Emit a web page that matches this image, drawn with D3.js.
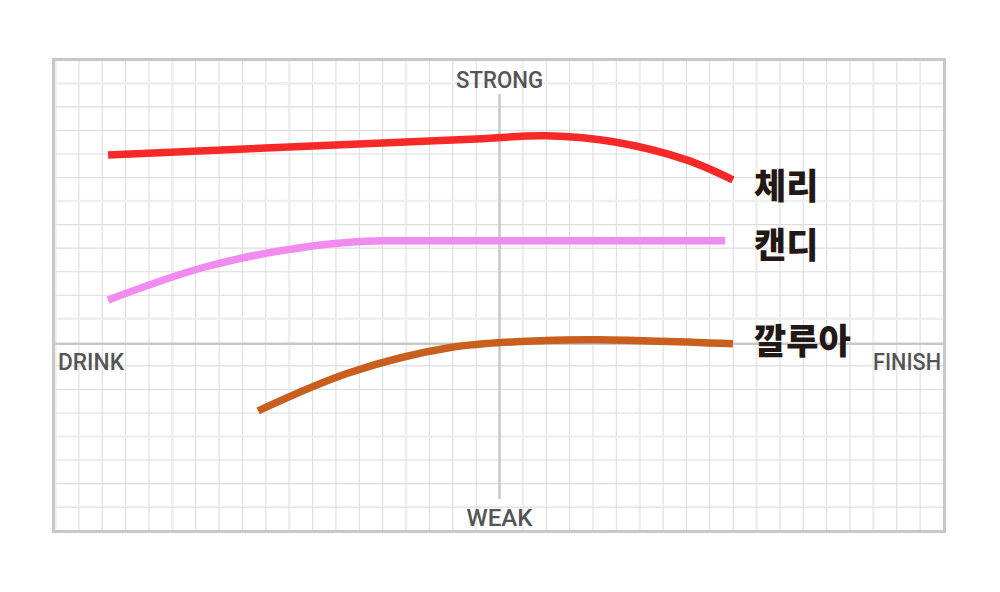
<!DOCTYPE html>
<html><head><meta charset="utf-8">
<script src="https://cdn.jsdelivr.net/npm/d3@7"></script>
<style>body{margin:0;background:#fff}svg{display:block}</style>
</head><body>
<script>
// Axis labels
const axisTop = "STRONG", axisBottom = "WEAK", axisLeft = "DRINK", axisRight = "FINISH";
// Series names
const seriesNames = ["체리", "캔디", "깔루아"];
// Series points: x = drink→finish position, y = weak→strong value (grid units)
const cherry = [[-16.75,7.96],[-1,8.64],[2,8.77],[5,8.5],[8,7.75],[9.99,6.9]];
const candy  = [[-16.75,1.8],[-12.6,3.2],[-8.5,4.02],[-5.0,4.31],[9.65,4.31]];
const kahlua = [[-10.33,-2.91],[-6.4,-1.28],[-2.1,-0.22],[2.0,0.08],[4.3,0.11],[9.99,-0.06]];
const seriesColors = ["#f62828", "#f08cf0", "#c85f1e"];
const xTicks = d3.range(-19, 20);
const yTicks = d3.range(-8, 13);

const W = 1000, H = 592;
const svg = d3.select("body").append("svg").attr("width", W).attr("height", H);
const x = d3.scaleLinear().domain([-19, 19]).range([55.5, 943.5]);
const y = d3.scaleLinear().domain([-8, 12]).range([530.7, 59.8]);
const isMajor = d => ((d % 5) + 5) % 5 === 1;

const g = svg.append("g");
// grid
g.selectAll(".vx").data(xTicks.filter(d => d !== 0)).join("line")
  .attr("x1", d => x(d)).attr("x2", d => x(d)).attr("y1", y(12)).attr("y2", y(-8))
  .attr("stroke", d => isMajor(d) ? "#efefef" : "#dddddd")
  .attr("stroke-width", d => isMajor(d) ? 2.6 : 1.1);
g.selectAll(".hy").data(yTicks.filter(d => d !== 0)).join("line")
  .attr("y1", d => y(d)).attr("y2", d => y(d)).attr("x1", x(-19)).attr("x2", x(19))
  .attr("stroke", d => isMajor(d) ? "#efefef" : "#dddddd")
  .attr("stroke-width", d => isMajor(d) ? 2.6 : 1.1);

// axes
g.append("line").attr("x1", x(-19)).attr("x2", x(19)).attr("y1", y(0) + 1.5).attr("y2", y(0) + 1.5)
  .attr("stroke", "#c8c8c8").attr("stroke-width", 2.5);
g.append("line").attr("x1", x(0)).attr("x2", x(0)).attr("y1", 94).attr("y2", 499)
  .attr("stroke", "#c8c8c8").attr("stroke-width", 2.5);

// frame
g.append("rect").attr("x", 53.5).attr("y", 59.5).attr("width", 891).attr("height", 472)
  .attr("fill", "none").attr("stroke", "#c8c8c8").attr("stroke-width", 3);

// axis labels
function t(txt, px, py, anchor, len) {
  return g.append("text").text(txt).attr("x", px).attr("y", py).attr("text-anchor", anchor)
    .attr("fill", "#555555").attr("font-family", "Roboto, 'Liberation Sans', sans-serif")
    .attr("font-size", 24).attr("font-weight", 500)
    .attr("textLength", len).attr("lengthAdjust", "spacingAndGlyphs");
}
t(axisTop, x(0), 88, "middle", 87);
t(axisBottom, x(0), 526, "middle", 66);
t(axisLeft, 58, 370, "start", 66);
t(axisRight, 941, 370, "end", 68);

// lines
const line = d3.line().x(d => x(d[0])).y(d => y(d[1]));
const curves = [d3.curveCatmullRom.alpha(0.5), d3.curveMonotoneX, d3.curveCatmullRom.alpha(0.5)];
[cherry, candy, kahlua].forEach((s, i) => {
  g.append("path").attr("d", line.curve(curves[i])(s)).attr("fill", "none")
    .attr("stroke", seriesColors[i]).attr("stroke-width", 7.5);
});

// series labels
const labelY = [186, 245, 341];
seriesNames.forEach((n, i) => {
  g.append("text").text(n).attr("x", 754).attr("y", labelY[i]).attr("dy", "0.36em")
    .attr("font-family", "'Noto Sans CJK KR', sans-serif").attr("font-weight", 900)
    .attr("font-size", 35).attr("fill", "#231815");
});
</script>
</body></html>
